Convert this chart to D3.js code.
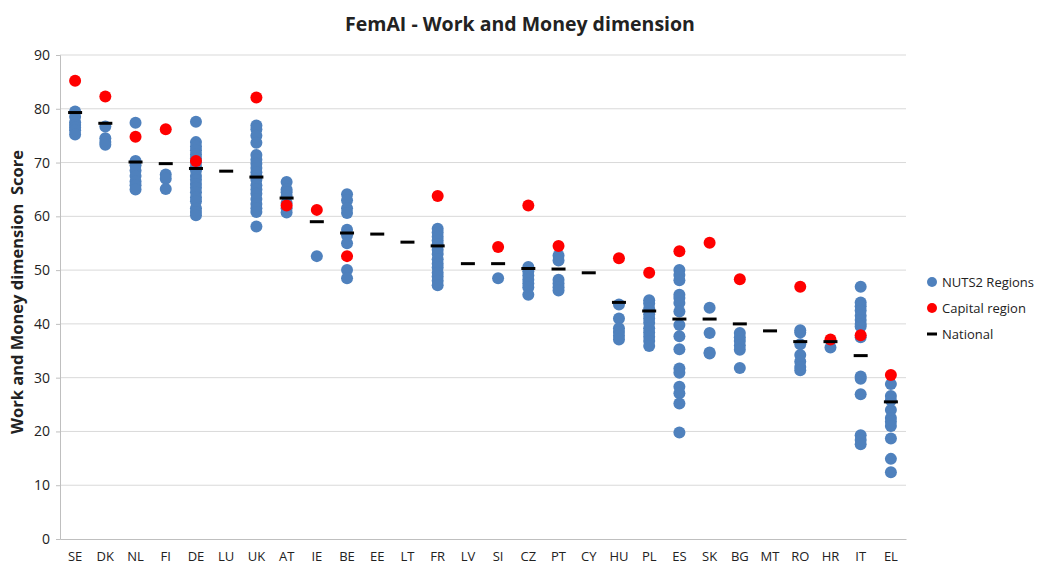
<!DOCTYPE html>
<html>
<head>
<meta charset="utf-8">
<script src="https://cdn.jsdelivr.net/npm/d3@7"></script>
<style>
  body { margin: 0; background: #fff; }
  svg { display: block; font-family: "Open Sans", "Liberation Sans", sans-serif; }
</style>
</head>
<body>
<svg width="1037" height="567"></svg>
<script>
const countries = ['SE', 'DK', 'NL', 'FI', 'DE', 'LU', 'UK', 'AT', 'IE', 'BE', 'EE', 'LT', 'FR', 'LV',
  'SI', 'CZ', 'PT', 'CY', 'HU', 'PL', 'ES', 'SK', 'BG', 'MT', 'RO', 'HR', 'IT', 'EL'];

// NUTS2 region scores per country
const regions = [
  [79.5, 78.5, 77.5, 77, 76.5, 76, 75.2],
  [76.7, 74.5, 73.8, 73.3],
  [77.4, 70.3, 69.5, 68.5, 67.5, 66.5, 65.8, 65.0],
  [67.8, 67.0, 65.1],
  [77.6, 73.8, 73, 72.3, 71.5, 70.8, 70, 69.2, 68.5, 67.5, 66.8, 66, 65.3, 64.5, 63.5, 62.8, 61.5, 60.8, 60.2],
  [],
  [76.9, 76.2, 75, 73.7, 71.4, 70.5, 69.8, 69, 68.2, 67.5, 66.8, 65.8, 65, 64.2, 63.2, 62.3, 61.5, 60.8, 58.1],
  [66.4, 65, 64.5, 63.8, 62.5, 61.5, 60.7],
  [52.6],
  [64.1, 63, 61.5, 60.6, 57.5, 56.5, 55, 50, 48.5],
  [],
  [],
  [57.7, 57, 56.2, 55.5, 54.8, 53.8, 53, 52, 51.2, 50.5, 49.5, 48.8, 48, 47.2],
  [],
  [48.5],
  [50.6, 49.8, 49, 48.2, 47.5, 46.8, 45.4],
  [52.7, 51.8, 48.2, 47.5, 46.8, 46.2],
  [],
  [43.6, 41, 39.2, 38.5, 37.8, 37.1],
  [44.4, 43.8, 42.8, 41.8, 41, 40.2, 39.2, 38.4, 37.6, 36.8, 35.9],
  [50, 49.1, 48.1, 45.4, 44.8, 43.9, 42.3, 39.8, 37.7, 35.3, 31.7, 30.9, 28.3, 27.1, 25.2, 19.8],
  [43, 38.3, 34.7, 34.5],
  [38.3, 37.5, 36.8, 36, 35.2, 31.8],
  [],
  [38.8, 38.4, 36.2, 34.2, 33, 32, 31.4],
  [35.6],
  [46.9, 44, 43.3, 42.5, 41.5, 40.7, 40, 39.5, 37.5, 30.2, 29.8, 26.9, 19.3, 18.4, 17.6],
  [28.8, 26.6, 25.8, 24, 22.5, 21.8, 21, 18.7, 14.9, 12.4]
];

// capital region score (null = none)
const capital = [85.2, 82.3, 74.8, 76.2, 70.3, null, 82.1, 62, 61.2, 52.6, null, null, 63.8, null,
  54.3, 62, 54.5, null, 52.2, 49.5, 53.5, 55.1, 48.3, null, 46.9, 37.1, 37.9, 30.5];

// national score
const national = [79.3, 77.3, 70.1, 69.8, 68.9, 68.4, 67.3, 63.4, 59, 56.9, 56.7, 55.2, 54.5, 51.2,
  51.2, 50.3, 50.2, 49.5, 44, 42.4, 40.9, 40.9, 40, 38.7, 36.7, 36.7, 34.1, 25.5];

const yTicks = d3.range(0, 91, 10);

const blue = '#4f81bd';
const red = '#ff0000';

const svg = d3.select('svg');
const margin = { top: 55, right: 131, bottom: 28, left: 60 };
const width = 1037;
const height = 567;

const x = d3.scaleBand().domain(countries).range([margin.left, width - margin.right]);
const y = d3.scaleLinear().domain([0, 90]).range([height - margin.bottom, margin.top]);
const cx = (c) => x(c) + x.bandwidth() / 2;

// gridlines
svg.append('g')
  .selectAll('line')
  .data(yTicks.filter((t) => t > 0))
  .enter()
  .append('line')
  .attr('x1', margin.left)
  .attr('x2', width - margin.right)
  .attr('y1', (d) => y(d))
  .attr('y2', (d) => y(d))
  .attr('stroke', '#d9d9d9')
  .attr('stroke-width', 1);

// y axis
const yAxis = svg.append('g')
  .attr('transform', `translate(${margin.left},0)`)
  .call(d3.axisLeft(y).tickValues(yTicks).tickSize(4).tickPadding(6));
yAxis.select('.domain').attr('stroke', '#bfbfbf');
yAxis.selectAll('.tick line').attr('stroke', '#bfbfbf');
yAxis.selectAll('.tick text')
  .attr('font-size', 14)
  .attr('fill', '#222')
  .attr('font-family', '"Open Sans", sans-serif');

// x axis
const xAxis = svg.append('g')
  .attr('transform', `translate(0,${y(0)})`)
  .call(d3.axisBottom(x).tickSize(0).tickPadding(13));
xAxis.select('.domain').attr('stroke', '#bfbfbf');
xAxis.selectAll('.tick text')
  .attr('font-size', 13)
  .attr('fill', '#222')
  .attr('font-family', '"Open Sans", sans-serif');

// NUTS2 dots
const regionPts = [];
countries.forEach((c, i) => regions[i].forEach((v) => regionPts.push({ c, v })));

svg.append('g')
  .selectAll('circle')
  .data(regionPts)
  .enter()
  .append('circle')
  .attr('cx', (d) => cx(d.c))
  .attr('cy', (d) => y(d.v))
  .attr('r', 6)
  .attr('fill', blue);

// capital dots
svg.append('g')
  .selectAll('circle')
  .data(countries.map((c, i) => ({ c, v: capital[i] })).filter((d) => d.v !== null))
  .enter()
  .append('circle')
  .attr('cx', (d) => cx(d.c))
  .attr('cy', (d) => y(d.v))
  .attr('r', 6)
  .attr('fill', red);

// national dash
svg.append('g')
  .selectAll('rect')
  .data(countries.map((c, i) => ({ c, v: national[i] })))
  .enter()
  .append('rect')
  .attr('x', (d) => cx(d.c) - 7)
  .attr('y', (d) => y(d.v) - 1.5)
  .attr('width', 14)
  .attr('height', 3)
  .attr('fill', '#000');

// title
svg.append('text')
  .attr('x', 520)
  .attr('y', 31)
  .attr('text-anchor', 'middle')
  .attr('font-size', 19.5)
  .attr('font-weight', 'bold')
  .attr('fill', '#222')
  .text('FemAI - Work and Money dimension');

// y label
svg.append('text')
  .attr('transform', 'translate(23,292) rotate(-90)')
  .attr('text-anchor', 'middle')
  .attr('font-size', 16.5)
  .attr('font-weight', 'bold')
  .attr('fill', '#222')
  .attr('xml:space', 'preserve')
  .text('Work and Money dimension  Score');

// legend
const legend = svg.append('g').attr('transform', 'translate(932,282)');
const items = [
  { label: 'NUTS2 Regions', type: 'dot', color: blue },
  { label: 'Capital region', type: 'dot', color: red },
  { label: 'National', type: 'dash', color: '#000' }
];
items.forEach((it, i) => {
  const g = legend.append('g').attr('transform', `translate(0,${i * 26})`);
  if (it.type === 'dot') {
    g.append('circle').attr('r', 5).attr('fill', it.color);
  } else {
    g.append('rect').attr('x', -5).attr('y', -1.5).attr('width', 10).attr('height', 3).attr('fill', it.color);
  }
  g.append('text')
    .attr('x', 10)
    .attr('y', 5)
    .attr('font-size', 13)
    .attr('fill', '#222')
    .text(it.label);
});
</script>
</body>
</html>
